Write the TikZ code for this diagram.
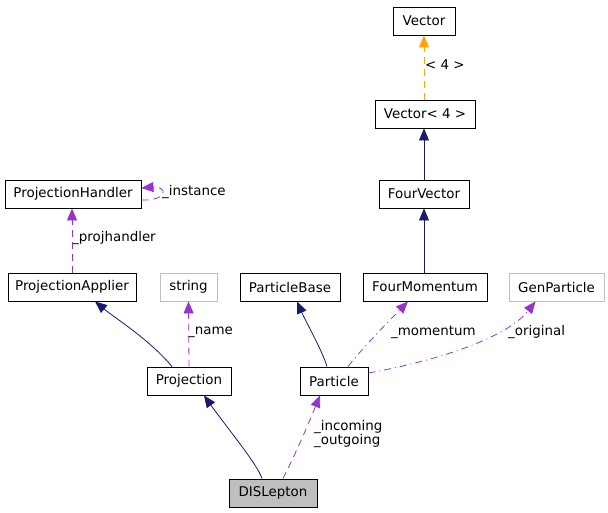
\documentclass[tikz,border=0pt]{standalone}
\usepackage{fontspec}
\setmainfont{DejaVu Sans}
\usetikzlibrary{arrows.meta}
\definecolor{navyc}{RGB}{25,25,112}
\definecolor{purpc}{RGB}{153,50,204}
\definecolor{orangec}{RGB}{255,165,0}
\definecolor{grayc}{RGB}{191,191,191}
\begin{document}
\begin{tikzpicture}[x=1pt,y=-1pt,
  every node/.style={font=\fontsize{13.4}{15.5}\selectfont},
  box/.style={draw=black,line width=0.9pt,minimum height=28pt,inner sep=0pt,anchor=center},
  gbox/.style={box,draw=grayc},
  lbl/.style={anchor=west,inner sep=0pt,align=left},
  tip/.style={-{Triangle[length=12pt,width=10pt]}},
  inh/.style={tip,draw=navyc,line width=0.8pt},
  use/.style={tip,draw=purpc,line width=0.8pt,dash pattern=on 7pt off 5pt},
  usedd/.style={tip,draw=purpc,line width=0.8pt,dash pattern=on 7pt off 4pt on 1pt off 4pt},
  tmpl/.style={tip,draw=orangec,line width=0.8pt,dash pattern=on 7pt off 5pt}]
\useasboundingbox (0,0) rectangle (608,512);
% nodes
\node[box,minimum width=62pt]  (vec)  at (424,21)  {Vector};
\node[box,minimum width=100pt] (vec4) at (425,114) {Vector< 4 >};
\node[box,minimum width=90pt]  (fv)   at (424,194) {FourVector};
\node[box,minimum width=136pt] (ph)   at (73,194)  {ProjectionHandler};
\node[box,minimum width=128pt] (pa)   at (72,287)  {ProjectionApplier};
\node[gbox,minimum width=57pt] (str)  at (188.5,287) {string};
\node[box,minimum width=100pt] (pb)   at (290,287) {ParticleBase};
\node[box,minimum width=124pt] (fm)   at (425,287) {FourMomentum};
\node[gbox,minimum width=95pt] (gen)  at (556.5,287) {GenParticle};
\node[box,minimum width=84pt]  (proj) at (189,381) {Projection};
\node[box,minimum width=68pt]  (part) at (334,381) {Particle};
\node[box,fill=grayc,minimum width=88pt] (dis) at (273,493) {DISLepton};
% labels
\node[lbl] (l4)   at (425,65)  {< 4 >};
\node[lbl] (lph)  at (72,238)  {\_projhandler};
\node[lbl] (lin)  at (162,192) {\_instance};
\node[lbl] (lnm)  at (188,332) {\_name};
\node[lbl] (lmo)  at (391,332) {\_momentum};
\node[lbl] (lor)  at (508,332) {\_original};
\node[lbl] (lio)  at (314,434) {\_incoming\\[-1pt]\_outgoing};
% edges
\draw[tmpl] ([xshift=-1pt]vec4.north) -- (vec.south);
\draw[inh] (fv.north) -- ([xshift=-1pt]vec4.south);
\draw[inh] ([xshift=-1pt]fm.north) -- (fv.south);
\draw[use] (pa.north) -- ([xshift=-1pt]ph.south);
\draw[use] ([yshift=-6pt]ph.east) .. controls (168,201) and (168,186) .. ([yshift=6pt]ph.east);
\draw[inh] ([xshift=-17pt]proj.north) .. controls (150,340) and (115,318) .. ([xshift=23pt]pa.south);
\draw[use] (proj.north) -- (str.south);
\draw[inh] ([xshift=-7pt]part.north) .. controls (322,350) and (305,320) .. ([xshift=7pt]pb.south);
\draw[usedd] ([xshift=14pt]part.north) .. controls (365,345) and (390,320) .. ([xshift=-17pt]fm.south);
\draw[usedd] ([yshift=8pt]part.east) .. controls (430,362) and (505,340) .. ([xshift=-21pt]gen.south);
\draw[inh] ([xshift=-11pt]dis.north) .. controls (258,465) and (225,425) .. ([xshift=15pt]proj.south);
\draw[use] ([xshift=10pt]dis.north) .. controls (295,455) and (308,425) .. ([xshift=-14pt]part.south);
\end{tikzpicture}
\end{document}
